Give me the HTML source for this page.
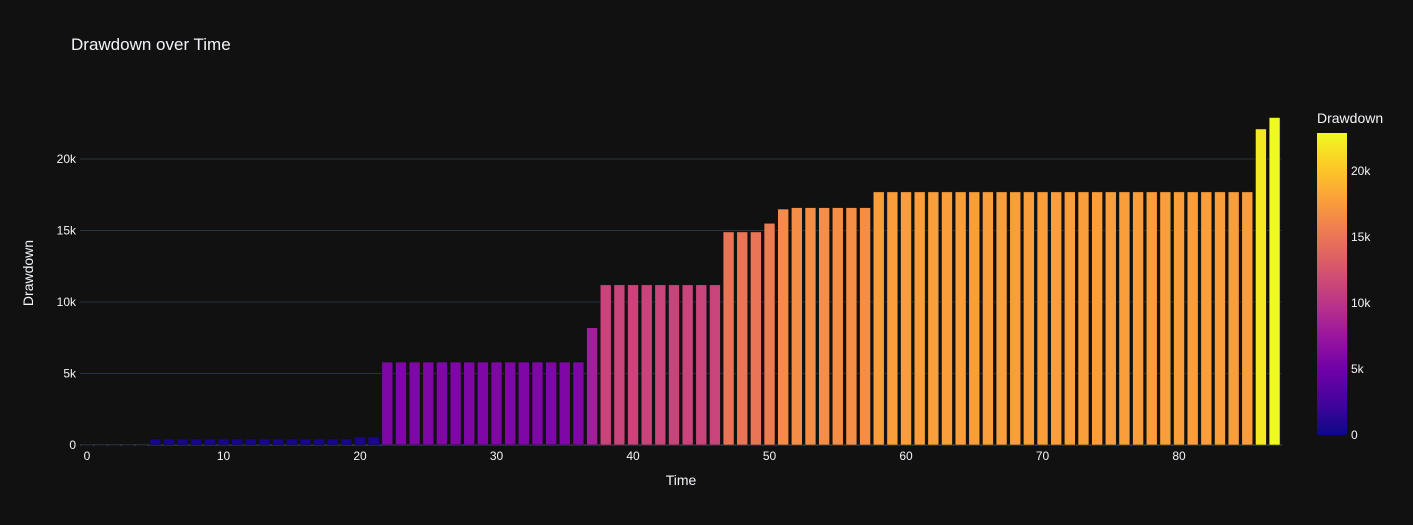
<!DOCTYPE html>
<html><head><meta charset="utf-8"><style>
html,body{margin:0;padding:0;background:#111111;}
svg{display:block;font-family:"Liberation Sans",sans-serif;}
</style></head><body>
<svg id="chart" width="1413" height="525">
<rect width="1413" height="525" fill="#111111"/>
<text x="71" y="50" fill="#f2f5fa" font-size="17">Drawdown over Time</text>
<g id="grid"></g>
<g id="bars"></g>
<g id="xticks"></g>
<g id="yticks"></g>
<text x="681" y="485" fill="#f2f5fa" font-size="14" text-anchor="middle">Time</text>
<text transform="translate(33,273) rotate(-90)" fill="#f2f5fa" font-size="14" text-anchor="middle">Drawdown</text>
<defs><linearGradient id="plasma" x1="0" y1="1" x2="0" y2="0">
<stop offset="0" stop-color="#0d0887"/><stop offset="0.111" stop-color="#46039f"/><stop offset="0.222" stop-color="#7201a8"/><stop offset="0.333" stop-color="#9c179e"/><stop offset="0.444" stop-color="#bd3786"/><stop offset="0.556" stop-color="#d8576b"/><stop offset="0.667" stop-color="#ed7953"/><stop offset="0.778" stop-color="#fb9f3a"/><stop offset="0.889" stop-color="#fdca26"/><stop offset="1" stop-color="#f0f921"/>
</linearGradient></defs>
<text x="1317" y="123" fill="#f2f5fa" font-size="14">Drawdown</text>
<rect x="1317" y="133" width="30" height="302" fill="url(#plasma)"/>
<g id="cbticks"></g>
</svg>
<script>
const values = [0,0,0,0,0,420,420,420,420,420,420,420,420,420,420,420,420,420,420,420,560,560,
5800,5800,5800,5800,5800,5800,5800,5800,5800,5800,5800,5800,5800,5800,5800,8200,
11200,11200,11200,11200,11200,11200,11200,11200,11200,
14900,14900,14900,15500,16500,16600,16600,16600,16600,16600,16600,
17700,17700,17700,17700,17700,17700,17700,17700,17700,17700,17700,17700,17700,17700,17700,17700,17700,17700,17700,17700,17700,17700,17700,17700,17700,17700,17700,17700,
22100,22900];
const xTicks = [0,10,20,30,40,50,60,70,80];
const yTicks = [0,5000,10000,15000,20000];
const yTickLabels = ["0","5k","10k","15k","20k"];

const NS="http://www.w3.org/2000/svg";
const xs = v => 80.2 + (v + 0.5) * 13.65;
const ys = v => 445 - v * 0.0143;
const cmax = 22900;
const stops = ["#0d0887","#46039f","#7201a8","#9c179e","#bd3786","#d8576b","#ed7953","#fb9f3a","#fdca26","#f0f921"];
function hex(c){return [1,3,5].map(i=>parseInt(c.substr(i,2),16));}
function color(v){
  let t=Math.max(0,Math.min(1,v/cmax))*(stops.length-1);
  let i=Math.min(Math.floor(t),stops.length-2), f=t-i;
  let a=hex(stops[i]), b=hex(stops[i+1]);
  return "rgb("+a.map((x,k)=>Math.round(x+(b[k]-x)*f)).join(",")+")";
}
function mk(tag,attrs,parent,text){const e=document.createElementNS(NS,tag);for(const k in attrs)e.setAttribute(k,attrs[k]);if(text!==undefined)e.textContent=text;parent.appendChild(e);return e;}
const grid=document.getElementById('grid'), bars=document.getElementById('bars');
yTicks.forEach((t,i)=>{
  if(i>0){const l=mk('line',{x1:80,x2:1282,y1:ys(t),y2:ys(t),stroke:'#283442','stroke-width':1},grid);
  
  }
  const tx=mk('text',{x:76,y:ys(t)+4,fill:'#f2f5fa','font-size':12,'text-anchor':'end'},document.getElementById('yticks'),yTickLabels[i]);
  
  
});
const zl=mk('line',{x1:80,x2:1282,y1:445,y2:445,stroke:'#283442','stroke-width':2},grid);


values.forEach((v,i)=>{
  const w=10.9, y=ys(v);
  const r=mk('rect',{x:xs(i)-w/2,y:y,width:w,height:Math.max(0.5,445-y),fill:color(v),stroke:'#111111','stroke-width':0.5},bars);
  
  
});
xTicks.forEach(t=>{
  const tx=mk('text',{x:xs(t),y:460,fill:'#f2f5fa','font-size':12,'text-anchor':'middle'},document.getElementById('xticks'),String(t));
  
  
});
yTicks.forEach((t,i)=>{
  const y=435 - t/cmax*302;
  const tx=mk('text',{x:1351,y:y+4,fill:'#f2f5fa','font-size':12},document.getElementById('cbticks'),yTickLabels[i]);
  
  
});
</script>
</body></html>
